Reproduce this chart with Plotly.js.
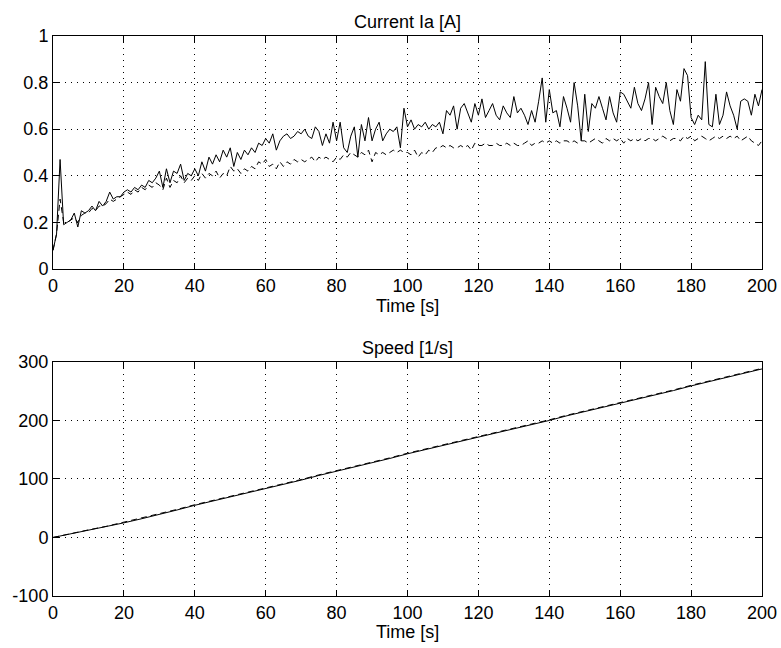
<!DOCTYPE html>
<html>
<head>
<meta charset="utf-8">
<script src="https://cdn.plot.ly/plotly-3.0.1.min.js"></script>
<style>html,body{margin:0;padding:0;background:#fff;}#chart{width:781px;height:648px;}</style>
</head>
<body>
<div id="chart"></div>
<script>
var time = [0,1,2,3,4,5,6,7,8,9,10,11,12,13,14,15,16,17,18,19,20,21,22,23,24,25,26,27,28,29,30,31,32,33,34,35,36,37,38,39,40,41,42,43,44,45,46,47,48,49,50,51,52,53,54,55,56,57,58,59,60,61,62,63,64,65,66,67,68,69,70,71,72,73,74,75,76,77,78,79,80,81,82,83,84,85,86,87,88,89,90,91,92,93,94,95,96,97,98,99,100,101,102,103,104,105,106,107,108,109,110,111,112,113,114,115,116,117,118,119,120,121,122,123,124,125,126,127,128,129,130,131,132,133,134,135,136,137,138,139,140,141,142,143,144,145,146,147,148,149,150,151,152,153,154,155,156,157,158,159,160,161,162,163,164,165,166,167,168,169,170,171,172,173,174,175,176,177,178,179,180,181,182,183,184,185,186,187,188,189,190,191,192,193,194,195,196,197,198,199,200];

var currentMeasured = [
0.08,0.15,0.47,0.19,0.20,0.21,0.24,0.18,0.25,0.24,
0.25,0.27,0.25,0.29,0.27,0.29,0.33,0.30,0.31,0.31,
0.33,0.34,0.33,0.35,0.34,0.36,0.35,0.38,0.37,0.39,
0.42,0.35,0.43,0.37,0.42,0.41,0.45,0.38,0.41,0.40,
0.43,0.40,0.46,0.42,0.48,0.45,0.49,0.46,0.51,0.48,
0.52,0.44,0.50,0.47,0.51,0.49,0.52,0.50,0.54,0.53,
0.56,0.54,0.58,0.51,0.55,0.57,0.58,0.56,0.57,0.59,
0.58,0.60,0.57,0.56,0.61,0.59,0.53,0.58,0.54,0.63,
0.55,0.63,0.52,0.50,0.57,0.61,0.48,0.62,0.55,0.65,
0.55,0.60,0.63,0.55,0.58,0.60,0.59,0.61,0.52,0.69,
0.61,0.64,0.60,0.62,0.61,0.63,0.60,0.62,0.61,0.63,
0.58,0.68,0.66,0.70,0.60,0.69,0.71,0.67,0.63,0.71,
0.66,0.73,0.65,0.68,0.71,0.66,0.64,0.70,0.67,0.65,
0.74,0.67,0.69,0.66,0.62,0.68,0.63,0.72,0.82,0.63,
0.77,0.67,0.68,0.61,0.74,0.69,0.63,0.80,0.70,0.55,
0.75,0.59,0.71,0.69,0.74,0.69,0.64,0.74,0.67,0.63,
0.76,0.75,0.72,0.69,0.78,0.71,0.68,0.73,0.80,0.62,
0.78,0.74,0.71,0.80,0.68,0.62,0.77,0.72,0.86,0.83,
0.65,0.62,0.66,0.64,0.89,0.62,0.61,0.75,0.62,0.66,
0.76,0.70,0.66,0.60,0.72,0.73,0.72,0.66,0.75,0.70,
0.77];

var currentModel = [
0.08,0.15,0.30,0.20,0.20,0.21,0.22,0.20,0.23,0.24,
0.24,0.26,0.25,0.27,0.27,0.28,0.30,0.29,0.30,0.31,
0.32,0.33,0.32,0.34,0.33,0.35,0.34,0.36,0.35,0.37,
0.36,0.34,0.39,0.35,0.38,0.37,0.40,0.37,0.39,0.38,
0.40,0.38,0.41,0.39,0.41,0.40,0.42,0.39,0.41,0.40,
0.44,0.42,0.43,0.41,0.43,0.42,0.44,0.43,0.46,0.45,
0.47,0.44,0.45,0.43,0.46,0.44,0.46,0.45,0.47,0.46,
0.47,0.46,0.47,0.48,0.46,0.48,0.47,0.48,0.47,0.46,
0.48,0.47,0.49,0.48,0.50,0.49,0.48,0.50,0.49,0.51,
0.46,0.50,0.49,0.50,0.49,0.50,0.51,0.50,0.51,0.50,
0.50,0.49,0.51,0.48,0.50,0.49,0.51,0.50,0.52,0.52,
0.53,0.52,0.53,0.52,0.52,0.53,0.52,0.53,0.51,0.54,
0.53,0.53,0.54,0.53,0.53,0.54,0.53,0.53,0.54,0.53,
0.54,0.53,0.53,0.54,0.55,0.53,0.54,0.54,0.55,0.54,
0.55,0.54,0.55,0.54,0.55,0.55,0.54,0.55,0.54,0.55,
0.55,0.54,0.55,0.56,0.55,0.54,0.56,0.55,0.56,0.55,
0.56,0.54,0.56,0.55,0.56,0.55,0.56,0.55,0.56,0.56,
0.55,0.56,0.57,0.56,0.55,0.56,0.56,0.55,0.57,0.56,
0.57,0.55,0.56,0.57,0.56,0.55,0.56,0.57,0.56,0.57,
0.56,0.57,0.56,0.57,0.55,0.56,0.57,0.55,0.54,0.53,
0.55];

var speedTime = [0,5,10,15,20,25,30,35,40,45,50,55,60,65,70,75,80,85,90,95,100,105,110,115,120,125,130,135,140,145,150,155,160,165,170,175,180,185,190,195,200];
var speedMeasured = [0,6,12,18,25,32,39,47,55,62,69,77,84,91,98,106,113,120,128,135,143,150,157,164,172,179,186,193,200,208,215,222,230,237,244,251,259,266,273,281,288];
var speedModel = [0,7,13,19,26,33,40,48,56,63,70,78,85,92,99,107,114,121,129,136,144,151,158,165,173,180,187,194,201,209,216,223,231,238,245,252,260,267,274,282,289];

var xTicks = [0,20,40,60,80,100,120,140,160,180,200];
var currentTicks = [0,0.2,0.4,0.6,0.8,1];
var currentTickText = ['0','0.2','0.4','0.6','0.8','1'];
var speedTicks = [-100,0,100,200,300];
var speedTickText = ['-100','0','100','200','300'];

var FONT = {family: 'Liberation Sans, Arial, sans-serif', size: 18, color: '#000'};

function axisBase() {
  return {
    showline: true, linecolor: '#000', linewidth: 1, mirror: 'ticks',
    ticks: 'inside', ticklen: 6, tickcolor: '#000', tickwidth: 1,
    showgrid: true, gridcolor: '#000', gridwidth: 1, griddash: '1px,5px',
    zeroline: false, tickfont: FONT, fixedrange: true
  };
}

var traces = [
  {x: time, y: currentMeasured, xaxis: 'x', yaxis: 'y', mode: 'lines', line: {color: '#000', width: 1}, hoverinfo: 'skip'},
  {x: time, y: currentModel, xaxis: 'x', yaxis: 'y', mode: 'lines', line: {color: '#000', width: 1, dash: '6px,4px'}, hoverinfo: 'skip'},
  {x: speedTime, y: speedMeasured, xaxis: 'x2', yaxis: 'y2', mode: 'lines', line: {color: '#000', width: 1}, hoverinfo: 'skip'},
  {x: speedTime, y: speedModel, xaxis: 'x2', yaxis: 'y2', mode: 'lines', line: {color: '#000', width: 1, dash: '6px,4px'}, hoverinfo: 'skip'}
];

var xa = Object.assign(axisBase(), {domain: [0,1], range: [0,200], tickvals: xTicks, anchor: 'y'});
var ya = Object.assign(axisBase(), {domain: [0.584,1], range: [0,1], tickvals: currentTicks, ticktext: currentTickText, anchor: 'x'});
var xa2 = Object.assign(axisBase(), {domain: [0,1], range: [0,200], tickvals: xTicks, anchor: 'y2'});
var ya2 = Object.assign(axisBase(), {domain: [0,0.418], range: [-100,300], tickvals: speedTicks, ticktext: speedTickText, anchor: 'x2'});

var layout = {
  width: 781, height: 648,
  margin: {l: 53, r: 19, t: 36, b: 52},
  paper_bgcolor: '#fff', plot_bgcolor: '#fff',
  showlegend: false,
  font: FONT,
  xaxis: xa, yaxis: ya, xaxis2: xa2, yaxis2: ya2,
  annotations: [
    {text: 'Current Ia [A]', xref: 'paper', yref: 'paper', x: 0.5, y: 1, yanchor: 'bottom', yshift: 2, showarrow: false, font: FONT},
    {text: 'Time [s]', xref: 'paper', yref: 'paper', x: 0.5, y: 0.5179, yanchor: 'middle', showarrow: false, font: FONT},
    {text: 'Speed [1/s]', xref: 'paper', yref: 'paper', x: 0.5, y: 0.418, yanchor: 'bottom', yshift: 2, showarrow: false, font: FONT},
    {text: 'Time [s]', xref: 'paper', yref: 'paper', x: 0.5, y: -0.0643, yanchor: 'middle', showarrow: false, font: FONT}
  ]
};

Plotly.newPlot('chart', traces, layout, {displayModeBar: false, staticPlot: true});
</script>
</body>
</html>
